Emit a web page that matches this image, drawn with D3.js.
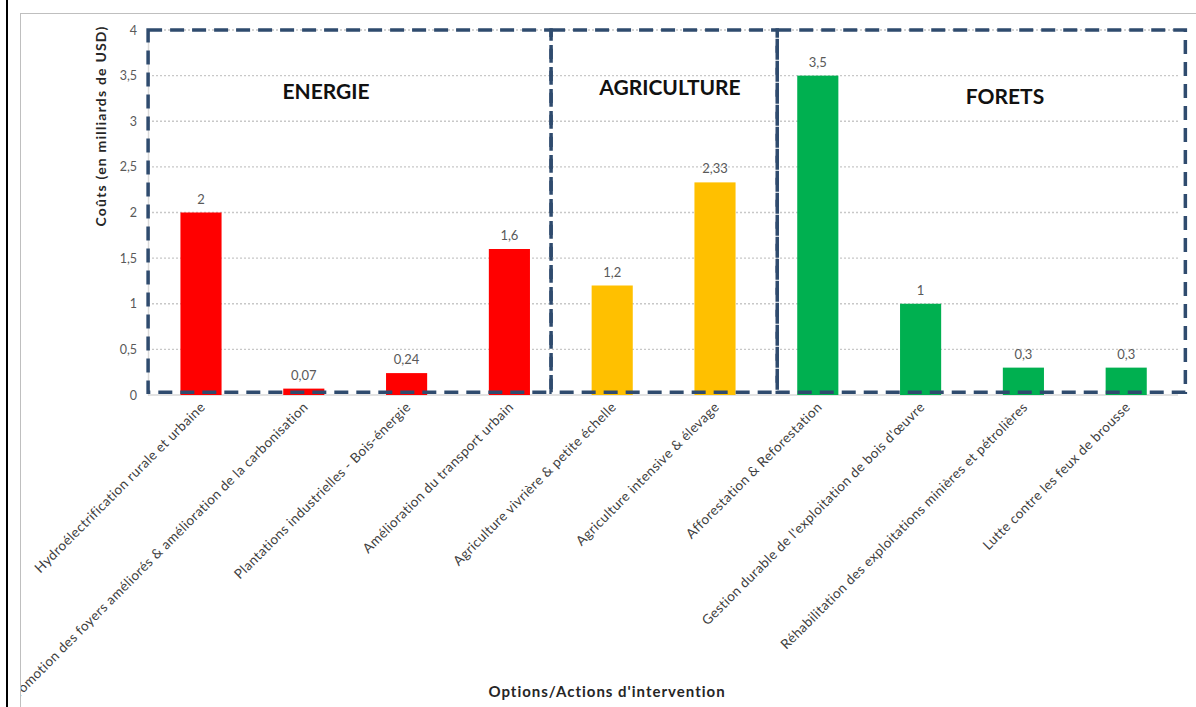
<!DOCTYPE html>
<html>
<head>
<meta charset="utf-8">
<script src="https://d3js.org/d3.v7.min.js"></script>
<style>
  body { margin: 0; background: #ffffff; }
  text { font-family: Lato, "Open Sans", sans-serif; }
</style>
</head>
<body>
<script>
// Coûts des options d'intervention - bar chart

var categories = [
  "Hydroélectrification rurale et urbaine",
  "Promotion des foyers améliorés & amélioration de la carbonisation",
  "Plantations industrielles - Bois-énergie",
  "Amélioration du  transport urbain",
  "Agriculture vivrière & petite échelle",
  "Agriculture intensive & élevage",
  "Afforestation & Reforestation",
  "Gestion durable de l'exploitation de bois d'œuvre",
  "Réhabilitation des exploitations  minières et pétrolières",
  "Lutte contre les feux de brousse"
];
var values = [2, 0.07, 0.24, 1.6, 1.2, 2.33, 3.5, 1, 0.3, 0.3];
var valueLabels = ["2", "0,07", "0,24", "1,6", "1,2", "2,33", "3,5", "1", "0,3", "0,3"];
var sectors = ["ENERGIE", "ENERGIE", "ENERGIE", "ENERGIE", "AGRICULTURE", "AGRICULTURE",
               "FORETS", "FORETS", "FORETS", "FORETS"];

var yTicks = [0, 0.5, 1, 1.5, 2, 2.5, 3, 3.5, 4];
var yTickLabels = ["0", "0,5", "1", "1,5", "2", "2,5", "3", "3,5", "4"];

// groups drawn as dashed boxes (start / end in band units)
var groupNames = ["ENERGIE", "AGRICULTURE", "FORETS"];
var groupStart = [0, 3.92, 6.12];
var groupEnd = [3.92, 6.12, 10.09];

var colors = {"ENERGIE": "#ff0000", "AGRICULTURE": "#ffc000", "FORETS": "#00b050"};

// svg size
var w_svg = 1196;
var h_svg = 707;

var svg = d3.select("body")
  .append("svg")
  .attr("width", w_svg)
  .attr("height", h_svg);

// outer frames
svg.append("line")
  .attr("x1", 7).attr("x2", 7)
  .attr("y1", 0).attr("y2", h_svg)
  .attr("stroke", "#000").attr("stroke-width", 2);

svg.append("rect")
  .attr("x", 20.5).attr("y", 13.5)
  .attr("width", 1200).attr("height", 750)
  .attr("fill", "none")
  .attr("stroke", "#bfbfbf");

svg.append("clipPath").attr("id", "clip")
  .append("rect")
  .attr("x", 21).attr("y", 14)
  .attr("width", w_svg).attr("height", h_svg);

var g = svg.append("g").attr("clip-path", "url(#clip)");

// scales
var xScale = d3.scaleBand()
  .domain(categories)
  .range([149.6, 1177.6])
  .paddingInner(0.6)
  .paddingOuter(0.3);

var yScale = d3.scaleLinear()
  .domain([0, 4])
  .range([395, 30]);

var band = xScale.step();
function bandPos(u) {
  return xScale.range()[0] + u * band;
}

// grid lines (dotted)
g.selectAll(".grid")
  .data(yTicks.slice(1))
  .enter()
  .append("line")
  .attr("class", "grid")
  .attr("x1", 148).attr("x2", 1178)
  .attr("y1", function(d) { return yScale(d); })
  .attr("y2", function(d) { return yScale(d); })
  .attr("stroke", "#c8c8c8")
  .attr("stroke-width", 1.3)
  .attr("stroke-dasharray", "2,2");

// y axis
var y_axis = d3.axisLeft(yScale)
  .tickValues(yTicks)
  .tickSize(0)
  .tickPadding(11)
  .tickFormat(function(d, i) { return yTickLabels[i]; });

var yg = g.append("g")
  .attr("transform", "translate(148,0)")
  .call(y_axis);
yg.select(".domain").attr("stroke", "#d9d9d9").attr("stroke-width", 1.5);
yg.selectAll("text")
  .attr("fill", "#595959")
  .style("font-size", "12.5px")
  .style("font-family", "Lato, sans-serif");

// x axis
var x_axis = d3.axisBottom(xScale).tickSize(0).tickFormat("");
var xg = g.append("g")
  .attr("transform", "translate(0,395)")
  .call(x_axis);
xg.select(".domain")
  .attr("d", "M148,0H1178")
  .attr("stroke", "#d9d9d9").attr("stroke-width", 1.5);

// bars
g.selectAll(".bar")
  .data(categories)
  .enter()
  .append("rect")
  .attr("class", "bar")
  .attr("x", function(d) { return xScale(d); })
  .attr("width", xScale.bandwidth())
  .attr("y", function(d, i) { return yScale(values[i]); })
  .attr("height", function(d, i) { return yScale(0) - yScale(values[i]); })
  .attr("fill", function(d, i) { return colors[sectors[i]]; });

// value labels
g.selectAll(".vlabel")
  .data(categories)
  .enter()
  .append("text")
  .attr("class", "vlabel")
  .attr("x", function(d) { return xScale(d) + xScale.bandwidth() / 2; })
  .attr("y", function(d, i) { return yScale(values[i]) - 9; })
  .attr("text-anchor", "middle")
  .attr("fill", "#595959")
  .style("font-size", "13px")
  .text(function(d, i) { return valueLabels[i]; });

// dashed group boxes
g.selectAll(".gbox")
  .data(groupNames)
  .enter()
  .append("rect")
  .attr("class", "gbox")
  .attr("x", function(d, i) { return bandPos(groupStart[i]) - 1.5; })
  .attr("width", function(d, i) { return bandPos(groupEnd[i]) - bandPos(groupStart[i]); })
  .attr("y", yScale(4))
  .attr("height", yScale(0.03) - yScale(4))
  .attr("fill", "none")
  .attr("stroke", "#2f4b6e")
  .attr("stroke-width", 3.5)
  .attr("stroke-dasharray", "14,8");

// group titles
var titleX = [326, 670, 1005];
var titleY = [99, 95, 104];
g.selectAll(".gtitle")
  .data(groupNames)
  .enter()
  .append("text")
  .attr("class", "gtitle")
  .attr("x", function(d, i) { return titleX[i]; })
  .attr("y", function(d, i) { return titleY[i]; })
  .attr("text-anchor", "middle")
  .attr("fill", "#111")
  .style("font-size", "21px")
  .style("font-weight", "bold")
  .text(function(d) { return d; });

// rotated category labels
g.selectAll(".xlabel")
  .data(categories)
  .enter()
  .append("text")
  .attr("class", "xlabel")
  .attr("text-anchor", "end")
  .attr("transform", function(d) {
    var cx = xScale(d) + xScale.bandwidth() / 2 + 5;
    return "translate(" + cx + ",408) rotate(-45)";
  })
  .attr("fill", "#404040")
  .style("font-size", "13.5px")
  .style("letter-spacing", "0.4px")
  .text(function(d) { return d; });

// axis titles
g.append("text")
  .attr("transform", "translate(106,126) rotate(-90)")
  .attr("text-anchor", "middle")
  .attr("fill", "#262626")
  .style("font-size", "14px")
  .style("font-weight", "bold")
  .style("letter-spacing", "1.2px")
  .text("Coûts (en milliards de USD)");

g.append("text")
  .attr("x", 607)
  .attr("y", 697)
  .attr("text-anchor", "middle")
  .attr("fill", "#262626")
  .style("font-size", "15px")
  .style("font-weight", "bold")
  .style("letter-spacing", "1px")
  .text("Options/Actions d'intervention");
</script>
</body>
</html>
